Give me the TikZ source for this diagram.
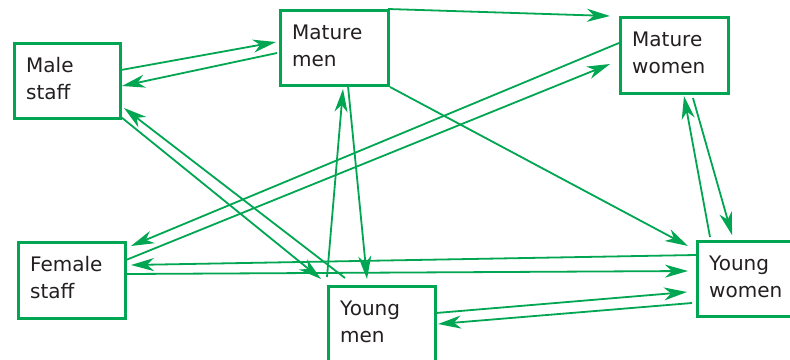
\documentclass[tikz,border=0pt]{standalone}
\usepackage{fontspec}
\setmainfont{DejaVu Sans}
\usetikzlibrary{arrows.meta}
\definecolor{grn}{RGB}{0,166,81}
\definecolor{ink}{RGB}{35,31,32}
\begin{document}
\begin{tikzpicture}[x=1pt,y=-1pt,
  box/.style={draw=grn,line width=2.6pt,fill=white,rectangle,anchor=north west,inner sep=0pt},
  lbl/.style={anchor=base west,inner sep=0pt,text=ink,font=\fontsize{20}{24}\selectfont},
  arr/.style={draw=grn,line width=1.8pt,-{Stealth[length=23pt,width=13pt,inset=7pt]}}]
\useasboundingbox (0,0) rectangle (790,359);
\clip (0,0) rectangle (790,359);
\fill[white] (0,0) rectangle (790,359);

% group boxes
\node[box,minimum width=106pt,minimum height=75pt] (ms) at (13,42) {};
\node[box,minimum width=108pt,minimum height=75pt] (mm) at (279,9) {};
\node[box,minimum width=108pt,minimum height=76pt] (mw) at (619,16) {};
\node[box,minimum width=107pt,minimum height=76pt] (fs) at (17,241) {};
\node[box,minimum width=107pt,minimum height=100pt] (ym) at (327,285) {};
\node[box,minimum width=110pt,minimum height=75pt] (yw) at (696,240) {};

% two-line labels
\foreach \n/\a/\b in {ms/Male/staff, mm/Mature/men, mw/Mature/women,
                      fs/Female/staff, ym/Young/men, yw/Young/women}{
  \node[lbl] (\n-a) at ([shift={(13,30)}]\n.north west) {\a};
  \node[lbl] (\n-b) at ([shift={(13,57)}]\n.north west) {\b};
}

% flows between groups
\draw[arr] ([shift={(108,28)}]ms.north west) -- ([shift={(-3,33)}]mm.north west);
\draw[arr] ([shift={(-2,44)}]mm.north west) -- ([shift={(109,44)}]ms.north west);
\draw[arr] ([shift={(109,0)}]mm.north west) -- ([shift={(-9,0)}]mw.north west);
\draw[arr] ([shift={(0,27)}]mw.north west) -- ([shift={(114,5)}]fs.north west);
\draw[arr] ([shift={(109,19)}]fs.north west) -- ([shift={(-9,48)}]mw.north west);
\draw[arr] ([shift={(108,75)}]ms.north west) -- ([shift={(-6,-6)}]ym.north west);
\draw[arr] ([shift={(18,-7)}]ym.north west) -- ([shift={(111,66)}]ms.north west);
\draw[arr] ([shift={(0,-8)}]ym.north west) -- ([shift={(64,80)}]mm.north west);
\draw[arr] ([shift={(69,77)}]mm.north west) -- ([shift={(40,-6)}]ym.north west);
\draw[arr] ([shift={(111,78)}]mm.north west) -- ([shift={(-8,6)}]yw.north west);
\draw[arr] ([shift={(74,82)}]mw.north west) -- ([shift={(36,-5)}]yw.north west);
\draw[arr] ([shift={(14,-3)}]yw.north west) -- ([shift={(65,80)}]mw.north west);
\draw[arr] ([shift={(0,15)}]yw.north west) -- ([shift={(114,24)}]fs.north west);
\draw[arr] ([shift={(110,33)}]fs.north west) -- ([shift={(-8,31)}]yw.north west);
\draw[arr] ([shift={(109,28)}]ym.north west) -- ([shift={(-9,52)}]yw.north west);
\draw[arr] ([shift={(-4,63)}]yw.north west) -- ([shift={(111,39)}]ym.north west);
\end{tikzpicture}
\end{document}
